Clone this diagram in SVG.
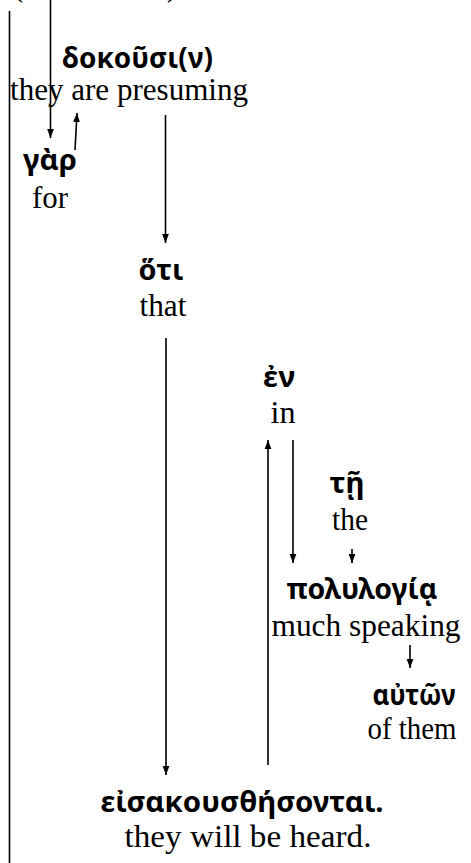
<svg xmlns="http://www.w3.org/2000/svg" width="471" height="863" viewBox="0 0 471 863">
<style>
.gk{font-family:"Noto Sans","DejaVu Sans",sans-serif;font-weight:bold;font-size:28px;fill:#000;text-anchor:middle}
.en{font-family:"Liberation Serif","Times New Roman",serif;font-size:31px;fill:#000;text-anchor:middle}
.ln{stroke:#000;stroke-width:1.6;fill:none}
.ar{stroke:#000;stroke-width:1.6;fill:none;marker-end:url(#ah)}
</style>
<defs>
<marker id="ah" markerUnits="userSpaceOnUse" markerWidth="9" markerHeight="12" viewBox="0 0 12 9" refX="12" refY="4.5" orient="auto">
<path d="M0,0 L12,4.5 L0,9 Z" fill="#000"/>
</marker>
</defs>
<rect width="471" height="863" fill="#fff"/>
<text class="en" x="18" y="-4">(</text>
<text class="en" x="172" y="-4">)</text>
<g id="connectors">
<line class="ln" x1="9.5" y1="11" x2="9.5" y2="863"/>
<line class="ar" x1="50.5" y1="0" x2="50.5" y2="138"/>
<line class="ar" x1="75" y1="150" x2="77" y2="113"/>
<line class="ar" x1="165.5" y1="115" x2="165.5" y2="243"/>
<line class="ar" x1="166" y1="338" x2="166" y2="775"/>
<line class="ar" x1="268" y1="765" x2="268" y2="440"/>
<line class="ar" x1="293" y1="440" x2="293" y2="563"/>
<line class="ar" x1="352" y1="549" x2="352" y2="563"/>
<line class="ar" x1="410" y1="645" x2="410" y2="668"/>
</g>
<g id="n-dokousi">
<text class="gk" x="137.5" y="68" textLength="151" lengthAdjust="spacingAndGlyphs">δοκοῦσι(ν)</text>
<text class="en" x="129" y="100" textLength="238" lengthAdjust="spacingAndGlyphs">they are presuming</text>
</g>
<g id="n-gar">
<text class="gk" x="50" y="170" textLength="54" lengthAdjust="spacingAndGlyphs">γὰρ</text>
<text class="en" x="50" y="208" textLength="36" lengthAdjust="spacingAndGlyphs">for</text>
</g>
<g id="n-hoti">
<text class="gk" x="161" y="280" textLength="45" lengthAdjust="spacingAndGlyphs">ὅτι</text>
<text class="en" x="163" y="316" textLength="47" lengthAdjust="spacingAndGlyphs">that</text>
</g>
<g id="n-en">
<text class="gk" x="279" y="387" textLength="32" lengthAdjust="spacingAndGlyphs">ἐν</text>
<text class="en" x="283" y="423" textLength="25" lengthAdjust="spacingAndGlyphs">in</text>
</g>
<g id="n-te">
<text class="gk" x="347" y="493" textLength="35" lengthAdjust="spacingAndGlyphs">τῇ</text>
<text class="en" x="350" y="530" textLength="36" lengthAdjust="spacingAndGlyphs">the</text>
</g>
<g id="n-polulogia">
<text class="gk" x="362" y="599" textLength="151" lengthAdjust="spacingAndGlyphs">πολυλογίᾳ</text>
<text class="en" x="366" y="636" textLength="189" lengthAdjust="spacingAndGlyphs">much speaking</text>
</g>
<g id="n-auton">
<text class="gk" x="414" y="705" textLength="83" lengthAdjust="spacingAndGlyphs">αὐτῶν</text>
<text class="en" x="412" y="739" textLength="89" lengthAdjust="spacingAndGlyphs">of them</text>
</g>
<g id="n-eisakousthesontai">
<text class="gk" x="242" y="812" textLength="283" lengthAdjust="spacingAndGlyphs">εἰσακουσθήσονται.</text>
<text class="en" x="248" y="847" textLength="247" lengthAdjust="spacingAndGlyphs">they will be heard.</text>
</g>
</svg>
